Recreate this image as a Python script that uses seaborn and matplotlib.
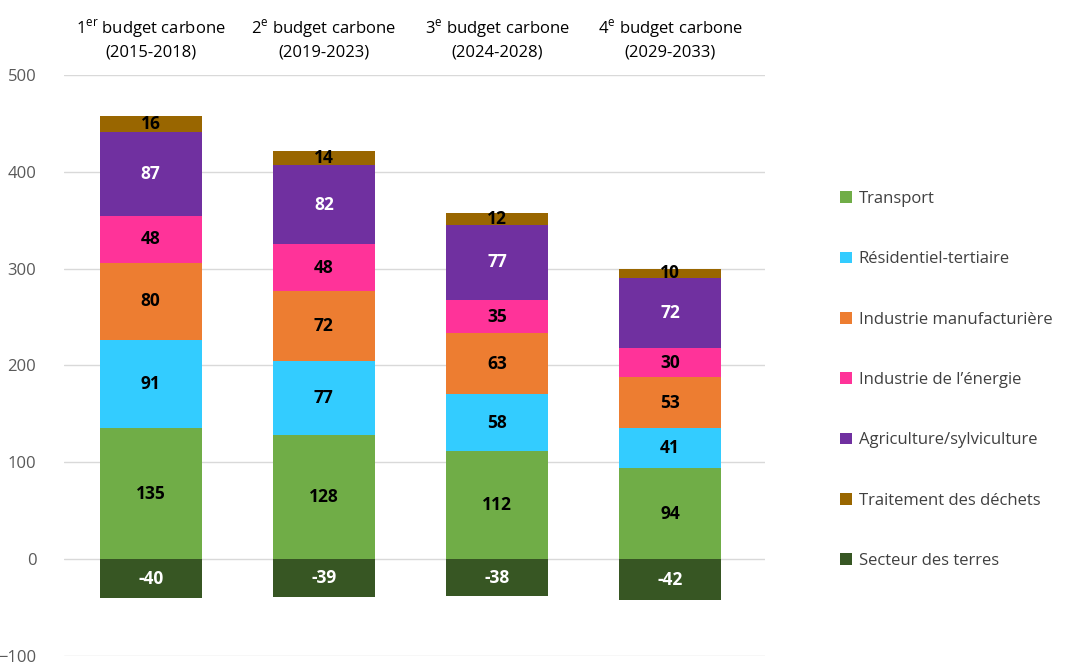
import numpy as np
import pandas as pd
import matplotlib
matplotlib.use("Agg")
import matplotlib.pyplot as plt
import seaborn as sns

budgets = [
    "1$^{\\mathregular{er}}$ budget carbone\n(2015-2018)",
    "2$^{\\mathregular{e}}$ budget carbone\n(2019-2023)",
    "3$^{\\mathregular{e}}$ budget carbone\n(2024-2028)",
    "4$^{\\mathregular{e}}$ budget carbone\n(2029-2033)",
]
sectors = [
    "Transport",
    "Résidentiel-tertiaire",
    "Industrie manufacturière",
    "Industrie de l\u2019énergie",
    "Agriculture/sylviculture",
    "Traitement des déchets",
]
transport = [135, 128, 112, 94]
residentiel = [91, 77, 58, 41]
industrie = [80, 72, 63, 53]
energie = [48, 48, 35, 30]
agriculture = [87, 82, 77, 72]
dechets = [16, 14, 12, 10]
terres = [-40, -39, -38, -42]

colors = ["#70AD47", "#33CCFF", "#ED7D31", "#FF3399", "#7030A0", "#996600"]
terres_color = "#375623"
text_colors = ["black", "black", "black", "black", "white", "black"]

sns.set_style("white")
plt.rcParams["font.family"] = ["Open Sans", "DejaVu Sans"]

fig = plt.figure(figsize=(10.69, 6.62), dpi=100)
ax = fig.add_axes([0.060, 0.009, 0.656, 0.878])

keys = [str(i) for i in range(len(budgets))]
series = [transport, residentiel, industrie, energie, agriculture, dechets]
bottom = np.zeros(len(budgets))
for name, vals, col, tc in zip(sectors, series, colors, text_colors):
    df = pd.DataFrame({"budget": keys, "value": vals})
    sns.barplot(data=df, x="budget", y="value", color=col, width=0.59,
                bottom=bottom.copy(), ax=ax, saturation=1, label=name,
                linewidth=0)
    for i, v in enumerate(vals):
        ax.text(i, bottom[i] + v / 2, str(v), ha="center", va="center",
                fontsize=12.5, fontweight="bold", color=tc)
    bottom += np.array(vals)

df = pd.DataFrame({"budget": keys, "value": terres})
sns.barplot(data=df, x="budget", y="value", color=terres_color, width=0.59,
            ax=ax, saturation=1, label="Secteur des terres", linewidth=0)
for i, v in enumerate(terres):
    ax.text(i, v / 2, str(v), ha="center", va="center",
            fontsize=12.5, fontweight="bold", color="white")

ax.set_ylim(-100, 500)
ax.set_xlim(-0.5, 3.55)
ax.set_yticks(range(-100, 501, 100))
ax.yaxis.grid(True, color="#D9D9D9", linewidth=1)
ax.set_axisbelow(True)
for s in ax.spines.values():
    s.set_visible(False)
ax.set_xlabel("")
ax.set_ylabel("")
ax.xaxis.tick_top()
ax.set_xticks(range(len(budgets)))
ax.set_xticklabels(budgets, fontsize=12, color="black", linespacing=1.4)
ax.tick_params(axis="x", length=0, pad=10)
ax.tick_params(axis="y", length=0, labelsize=12, labelcolor="#595959", pad=20)

h, l = ax.get_legend_handles_labels()
if ax.get_legend() is not None:
    ax.get_legend().remove()
fig.legend(h, l, loc="upper left", bbox_to_anchor=(0.772, 0.734), frameon=False,
           fontsize=12, labelcolor="#404040", handlelength=0.7, handleheight=0.7,
           handletextpad=0.4, labelspacing=2.66)

fig.savefig("out.png", dpi=100)
